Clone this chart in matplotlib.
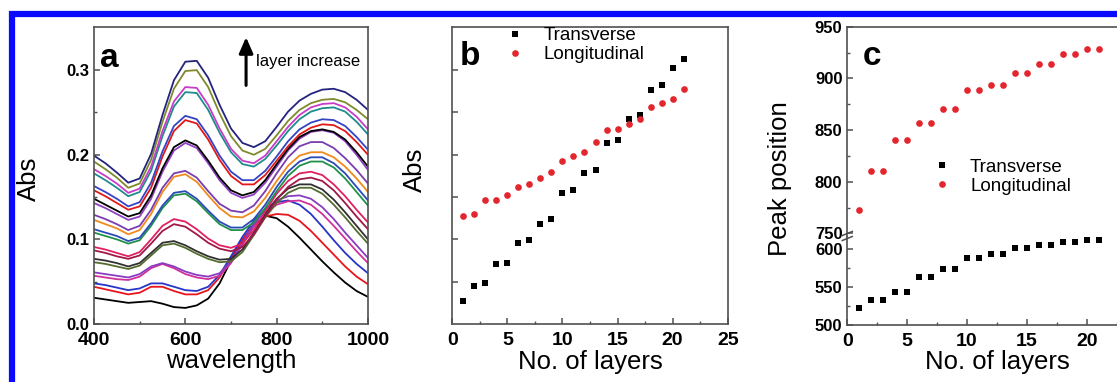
import matplotlib.pyplot as plt
import numpy as np
from matplotlib.lines import Line2D
from matplotlib.patches import Rectangle
from matplotlib.ticker import FormatStrFormatter

plt.rcParams['font.family'] = ['Liberation Sans', 'DejaVu Sans']
plt.rcParams['font.weight'] = 'bold'

# absorption spectra, one row per layer (1 -> 21), read every 25 nm
wavelength = np.arange(400, 1001, 25)
spectra = [
    [.031, .029, .027, .025, .026, .027, .024, .020, .019, .022, .030, .048, .075, .099, .118, .128, .125, .115, .102, .088, .074, .061, .049, .039, .032],
    [.044, .041, .038, .035, .037, .044, .044, .039, .035, .035, .040, .055, .078, .100, .117, .127, .130, .129, .122, .110, .096, .082, .068, .056, .047],
    [.048, .046, .043, .040, .042, .048, .048, .044, .040, .039, .044, .058, .080, .103, .122, .136, .144, .146, .141, .130, .115, .099, .084, .071, .060],
    [.057, .055, .053, .052, .056, .066, .071, .066, .059, .055, .053, .057, .072, .094, .115, .131, .141, .145, .146, .141, .130, .116, .101, .086, .072],
    [.061, .059, .057, .055, .059, .068, .072, .068, .062, .058, .056, .060, .074, .096, .118, .135, .146, .151, .152, .148, .138, .124, .108, .093, .078],
    [.073, .071, .068, .065, .069, .081, .093, .095, .090, .083, .077, .073, .074, .085, .105, .126, .143, .155, .161, .161, .154, .141, .126, .110, .095],
    [.077, .075, .072, .068, .072, .084, .096, .098, .093, .086, .080, .076, .077, .088, .108, .130, .148, .160, .165, .165, .159, .147, .132, .116, .100],
    [.087, .084, .080, .077, .081, .095, .110, .118, .115, .106, .096, .089, .086, .091, .106, .127, .147, .162, .171, .173, .169, .158, .143, .127, .112],
    [.091, .088, .084, .080, .085, .100, .116, .124, .121, .112, .101, .093, .090, .095, .111, .133, .154, .169, .178, .180, .176, .165, .151, .135, .120],
    [.108, .104, .100, .095, .099, .116, .137, .152, .154, .145, .131, .118, .111, .111, .120, .137, .157, .175, .187, .192, .192, .185, .172, .156, .140],
    [.112, .108, .104, .098, .102, .119, .140, .155, .157, .148, .134, .121, .114, .114, .124, .141, .162, .180, .192, .197, .197, .190, .178, .162, .146],
    [.123, .118, .113, .106, .111, .130, .156, .174, .177, .168, .152, .137, .127, .126, .133, .149, .169, .187, .199, .203, .203, .197, .186, .172, .156],
    [.129, .124, .118, .111, .116, .135, .161, .178, .181, .173, .157, .142, .134, .132, .140, .157, .178, .197, .210, .215, .215, .208, .196, .182, .166],
    [.143, .137, .130, .123, .127, .148, .180, .205, .214, .208, .190, .170, .155, .149, .153, .167, .186, .205, .219, .227, .229, .226, .216, .200, .182],
    [.148, .141, .134, .127, .131, .152, .184, .209, .217, .211, .193, .173, .158, .152, .156, .170, .189, .207, .221, .228, .230, .227, .218, .203, .186],
    [.158, .151, .143, .135, .139, .161, .198, .228, .241, .237, .218, .194, .175, .165, .165, .176, .193, .210, .224, .232, .236, .235, .228, .215, .200],
    [.163, .156, .148, .139, .144, .167, .204, .234, .246, .242, .223, .199, .180, .170, .170, .181, .198, .216, .230, .238, .242, .241, .234, .221, .206],
    [.178, .170, .161, .151, .156, .181, .222, .257, .274, .273, .253, .226, .203, .189, .186, .195, .211, .228, .242, .251, .255, .256, .251, .239, .224],
    [.183, .175, .166, .155, .160, .186, .228, .263, .280, .279, .259, .231, .207, .193, .190, .199, .216, .233, .247, .256, .260, .261, .256, .245, .230],
    [.192, .183, .173, .161, .166, .194, .239, .278, .299, .300, .280, .249, .222, .205, .200, .207, .223, .240, .253, .261, .265, .266, .262, .253, .242],
    [.199, .190, .179, .167, .172, .201, .247, .288, .310, .311, .291, .259, .231, .214, .209, .216, .233, .251, .264, .272, .277, .278, .274, .265, .253],
]
curve_colors = ['#000000', '#e8141c', '#2835c8', '#d0309a', '#8a3cc0', '#556b2f', '#303030',
                '#a01848', '#e02060', '#20904a', '#2a4ab8', '#f08a1e', '#7a3db0', '#9040c0',
                '#000000', '#e01818', '#3444c4', '#1f8c8c', '#c83cc8', '#7f8a2a', '#24247e']

layers = np.arange(1, 22)
trans_abs = [0.027, 0.045, 0.049, 0.071, 0.072, 0.096, 0.099, 0.118, 0.124, 0.155, 0.158,
             0.178, 0.182, 0.214, 0.217, 0.242, 0.247, 0.276, 0.282, 0.302, 0.313]
long_abs = [0.128, 0.130, 0.146, 0.146, 0.152, 0.162, 0.166, 0.173, 0.180, 0.193, 0.198,
            0.203, 0.215, 0.229, 0.230, 0.236, 0.242, 0.256, 0.261, 0.266, 0.278]
trans_peak = [522, 533, 533, 544, 544, 563, 563, 574, 574, 588, 588,
              593, 593, 601, 601, 605, 605, 609, 609, 612, 612]
long_peak = [773, 810, 810, 840, 840, 857, 857, 870, 870, 889, 889,
             894, 894, 905, 905, 914, 914, 924, 924, 928, 928]

RED = '#e3262e'
GRAY = '#505050'
W, H = 1117, 382

fig = plt.figure(figsize=(W / 100, H / 100), dpi=100)


def add_ax(x0, y0, x1, y1):
    # pixel box (top-left origin) -> figure fraction
    return fig.add_axes([x0 / W, 1 - y1 / H, (x1 - x0) / W, (y1 - y0) / H])


def style(ax):
    for s in ax.spines.values():
        s.set_color(GRAY)
        s.set_linewidth(1.2)
    ax.tick_params(which='both', direction='in', color=GRAY, top=False, right=False)
    ax.tick_params(which='major', length=4, width=1.1)
    ax.tick_params(which='minor', length=2.5, width=1)
    ax.tick_params(axis='x', labelsize=14, pad=5.5)
    ax.tick_params(axis='y', labelsize=12)


label_kw = dict(fontsize=18.5, fontweight='normal')
legend_kw = dict(frameon=False, loc='upper left', borderpad=0, borderaxespad=0,
                 handlelength=1.0, handletextpad=1.0, labelspacing=0.1,
                 prop={'size': 13.5, 'weight': 'normal'})

# ---- panel a
ax_a = add_ax(94, 27, 368, 324)
style(ax_a)
for row, color in zip(spectra, curve_colors):
    ax_a.plot(wavelength, row, color=color, lw=1.3)
ax_a.set_xlim(400, 1000)
ax_a.set_ylim(0, 0.351)
ax_a.set_xticks([400, 600, 800, 1000])
ax_a.set_xticks([500, 700, 900], minor=True)
ax_a.set_yticks([0, 0.1, 0.2, 0.3])
ax_a.set_yticks([0.05, 0.15, 0.25], minor=True)
ax_a.yaxis.set_major_formatter(FormatStrFormatter('%.1f'))
ax_a.set_xlabel('wavelength', **label_kw)
ax_a.xaxis.set_label_coords(0.5, -0.085)
ax_a.set_ylabel('Abs', **label_kw)
ax_a.yaxis.set_label_coords(-0.193, 0.49)
ax_a.text(413, 0.3035, 'a', fontsize=24, fontweight='bold', ha='left', va='baseline')
ax_a.annotate('', xy=(733, 0.339), xytext=(733, 0.282),
              arrowprops=dict(arrowstyle='-|>,head_width=0.35,head_length=0.8',
                              lw=2.2, color='k', shrinkA=0, shrinkB=0, mutation_scale=12))
ax_a.text(755, 0.310, 'layer increase', fontsize=12, fontweight='normal', ha='left', va='center')

# ---- panel b
ax_b = add_ax(452.3, 27, 727.7, 324)
style(ax_b)
ax_b.plot(layers, trans_abs, 's', color='k', ms=4.2, mew=0, label='Transverse')
ax_b.plot(layers, long_abs, 'o', color=RED, ms=4.8, mew=0, label='Longitudinal')
ax_b.set_xlim(0, 25)
ax_b.set_ylim(0, 0.351)
ax_b.set_xticks(np.arange(0, 26, 5))
ax_b.set_xticks(np.arange(2.5, 25, 5), minor=True)
ax_b.set_yticks(np.arange(0.05, 0.31, 0.05))
ax_b.tick_params(labelleft=False)
ax_b.set_xlabel('No. of layers', **label_kw)
ax_b.xaxis.set_label_coords(0.5, -0.088)
ax_b.set_ylabel('Abs', **label_kw)
ax_b.yaxis.set_label_coords(-0.092, 0.519)
ax_b.text(0.7, 0.306, 'b', fontsize=24, fontweight='bold', ha='left', va='baseline')
ax_b.legend(bbox_to_anchor=(0.195, 1.0), **legend_kw)

# ---- panel c (broken y axis)
ax_cu = add_ax(847.3, 26.7, 1146.6, 236.5)
ax_cl = add_ax(847.3, 237, 1146.6, 325)
style(ax_cu)
style(ax_cl)
h_l, = ax_cu.plot(layers, long_peak, 'o', color=RED, ms=4.8, mew=0, label='Longitudinal')
h_t, = ax_cl.plot(layers, trans_peak, 's', color='k', ms=4.2, mew=0, label='Transverse')
for ax in (ax_cu, ax_cl):
    ax.set_xlim(0, 25)
ax_cu.set_ylim(747, 950)
ax_cl.set_ylim(500, 616)
ax_cu.spines['bottom'].set_visible(False)
ax_cl.spines['top'].set_visible(False)
ax_cu.tick_params(axis='x', which='both', bottom=False, labelbottom=False)
ax_cu.set_yticks(np.arange(750, 951, 50))
ax_cu.set_yticks(np.arange(775, 950, 50), minor=True)
ax_cl.set_yticks([500, 550, 600])
ax_cl.set_yticks([525, 575], minor=True)
ax_cl.set_xticks(np.arange(0, 21, 5))
ax_cl.set_xticks(np.arange(2.5, 25, 5), minor=True)
ax_cl.set_xlabel('No. of layers', **label_kw)
ax_cl.xaxis.set_label_coords(0.5, -0.285)
ax_cl.set_ylabel('Peak position', **label_kw)
ax_cl.yaxis.set_label_coords(-0.185, 1.665)
ax_cu.text(1.3, 913, 'c', fontsize=24, fontweight='bold', ha='left', va='baseline')
ax_cu.legend(handles=[h_t, h_l], bbox_to_anchor=(0.285, 0.372), **legend_kw)

# break marks on the left spine
for yb in (233.5, 238.5):
    fig.add_artist(Line2D([842.3 / W, 852.3 / W], [1 - (yb + 2) / H, 1 - (yb - 2) / H],
                          color=GRAY, lw=1.1))

# blue frame
fig.add_artist(Rectangle((11.5 / W, -0.2), 1.5, 1.2 - 13.5 / H, transform=fig.transFigure,
                         fill=False, edgecolor='#0a0aff', lw=4.5))

fig.savefig('out.png', dpi=100)
